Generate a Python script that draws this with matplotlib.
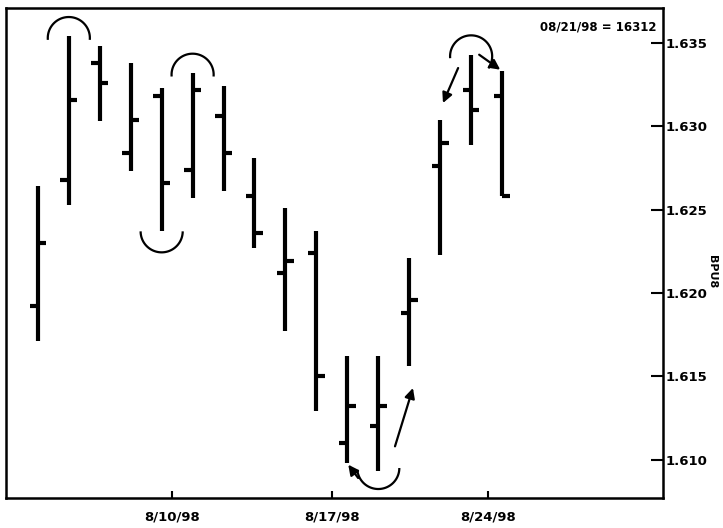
import matplotlib
matplotlib.use('Agg')
import matplotlib.pyplot as plt
from matplotlib import font_manager
import numpy as np

# OHLC data (daily bars)
opens  = [1.6192, 1.6268, 1.6338, 1.6284, 1.6318, 1.6274, 1.6306, 1.6258,
          1.6212, 1.6224, 1.6110, 1.6120, 1.6188, 1.6276, 1.6322, 1.6318]
highs  = [1.6264, 1.6354, 1.6348, 1.6338, 1.6323, 1.6332, 1.6324, 1.6281,
          1.6251, 1.6237, 1.6162, 1.6162, 1.6221, 1.6304, 1.6343, 1.6333]
lows   = [1.6171, 1.6253, 1.6303, 1.6273, 1.6237, 1.6257, 1.6261, 1.6227,
          1.6177, 1.6129, 1.6098, 1.6093, 1.6156, 1.6223, 1.6289, 1.6258]
closes = [1.6230, 1.6316, 1.6326, 1.6304, 1.6266, 1.6322, 1.6284, 1.6236,
          1.6219, 1.6150, 1.6132, 1.6132, 1.6196, 1.6290, 1.6310, 1.6258]

x_tick_pos = [4.33, 9.5, 14.55]
x_tick_labels = ['8/10/98', '8/17/98', '8/24/98']
y_ticks = [1.610, 1.615, 1.620, 1.625, 1.630, 1.635]
y_tick_labels = ['1.610', '1.615', '1.620', '1.625', '1.630', '1.635']

names = {f.name for f in font_manager.fontManager.ttflist}
fams = [f for f in ['Liberation Sans Narrow', 'DejaVu Sans Condensed'] if f in names] + ['DejaVu Sans']
plt.rcParams['font.family'] = fams
plt.rcParams['font.weight'] = 'bold'

fig = plt.figure(figsize=(7.23, 5.28), dpi=100)
ax = fig.add_axes([0.0083, 0.0568, 0.9087, 0.928])

x = np.arange(len(opens))
lw = 3.0
tl = 0.27
ax.vlines(x, lows, highs, color='black', lw=lw)
ax.hlines(opens, x - tl, x, color='black', lw=lw)
ax.hlines(closes, x, x + tl, color='black', lw=lw)

ax.set_xlim(-1.03, 20.2)
ax.set_ylim(1.6077, 1.6371)

# annotations: arcs and arrows
rx, ry = 0.68, 0.00126
alw = 1.6

def arc(cx, cy, a0, a1):
    t = np.radians(np.linspace(a0, a1, 80))
    ax.plot(cx + rx * np.cos(t), cy + ry * np.sin(t), color='black', lw=alw, solid_capstyle='butt')

arc(1, highs[1] - 0.0001, -5, 185)
arc(5, highs[5] - 0.0001, -5, 185)
arc(4, lows[4], 180, 360)
arc(11, lows[11] + 0.0002, 185, 360)
arc(14, highs[14] - 0.0001, -35, 185)

arrow = dict(arrowstyle='-|>,head_length=0.6,head_width=0.3', color='black', lw=alw, shrinkA=0, shrinkB=0)
ax.annotate('', xy=(10.03, lows[10] - 0.0001), xytext=(10.35, lows[10] - 0.0009), arrowprops=arrow)
ax.annotate('', xy=(12.12, lows[12] - 0.0013), xytext=(11.54, lows[12] - 0.0048), arrowprops=arrow)
ax.annotate('', xy=(13.09, highs[13] + 0.0010), xytext=(13.58, highs[13] + 0.0031), arrowprops=arrow)
ax.annotate('', xy=(14.94, highs[15] + 0.0001), xytext=(14.26, highs[14]), arrowprops=arrow)

# axes styling
for s in ax.spines.values():
    s.set_linewidth(1.8)
ax.yaxis.tick_right()
ax.set_yticks(y_ticks)
ax.set_yticklabels(y_tick_labels, fontsize=9.5, fontweight='bold')
ax.tick_params(axis='y', direction='in', length=9, width=1.5, pad=2)
ax.set_xticks(x_tick_pos)
ax.set_xticklabels(x_tick_labels, fontsize=9.5, fontweight='bold')
ax.tick_params(axis='x', direction='in', length=5, width=1.5, pad=9)

ax.text(0.99, 0.975, '08/21/98 = 16312', transform=ax.transAxes, ha='right', va='top',
        fontsize=8.5, fontweight='bold')
fig.text(0.985, 0.485, 'BPU8', rotation=-90, ha='center', va='center', fontsize=8, fontweight='bold')

fig.savefig('out.png', dpi=100)
